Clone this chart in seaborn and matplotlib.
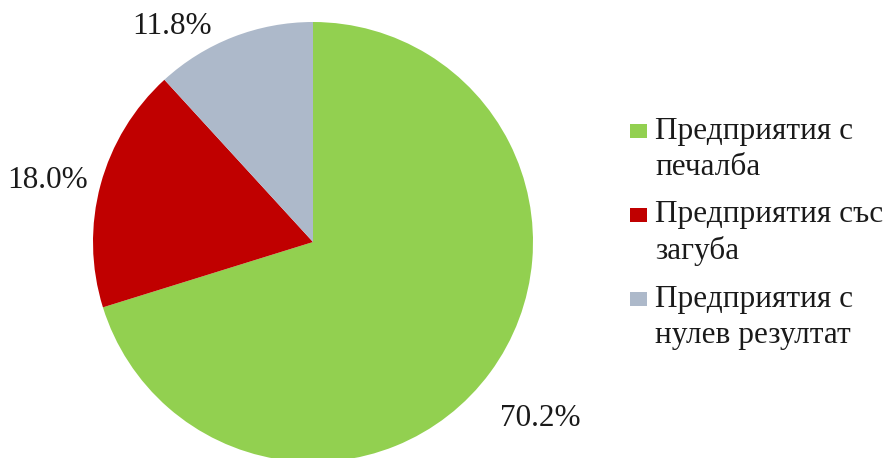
import numpy as np
import seaborn as sns
import matplotlib.pyplot as plt
from matplotlib.patches import Rectangle, Wedge
from matplotlib.legend_handler import HandlerPatch

sns.set_theme(style="white")
plt.rcParams['font.family'] = ['Liberation Serif', 'DejaVu Serif']

# Data
categories = ['Предприятия с\nпечалба', 'Предприятия със\nзагуба', 'Предприятия с\nнулев резултат']
shares = [70.2, 18.0, 11.8]
colors = ['#92D050', '#C00000', '#ADB9CA']

# label placement (radius factor, angle shift in degrees)
label_dist = [1.31, 1.24, 1.17]
label_shift = [-1.5, 2.0, 12.0]

fig = plt.figure(figsize=(8.88, 4.58), dpi=100)
ax = fig.add_axes([93 / 888, -4 / 458, 440 / 888, 440 / 458])

wedges, _ = ax.pie(shares, colors=colors, startangle=90, counterclock=False,
                   radius=1.0, wedgeprops=dict(linewidth=0))
ax.set_xlim(-1, 1)
ax.set_ylim(-1, 1)
ax.set_aspect('equal')
ax.axis('off')

for w, val, d, s in zip(wedges, shares, label_dist, label_shift):
    ang = np.deg2rad((w.theta1 + w.theta2) / 2 + s)
    ax.text(d * np.cos(ang), d * np.sin(ang), f'{val:.1f}%',
            ha='center', va='center', fontsize=22.5, color='#1a1a1a', clip_on=False)


# square marker next to the first line of each legend entry
def top_square(legend, orig_handle, xdescent, ydescent, width, height, fontsize):
    h = 0.45 * fontsize
    return Rectangle((-xdescent, -ydescent + height - h + 0.22 * fontsize), width, h)


leg = fig.legend(wedges, categories, loc='upper left', bbox_to_anchor=(630 / 888, 1 - 117 / 458),
                 frameon=False, fontsize=22.5, handlelength=0.55, handleheight=1.55,
                 handletextpad=0.25, labelspacing=0.6, borderpad=0, borderaxespad=0,
                 handler_map={Wedge: HandlerPatch(patch_func=top_square)})
for t in leg.get_texts():
    t.set_linespacing(1.3)
    t.set_color('#1a1a1a')

fig.savefig('out.png', dpi=100)
